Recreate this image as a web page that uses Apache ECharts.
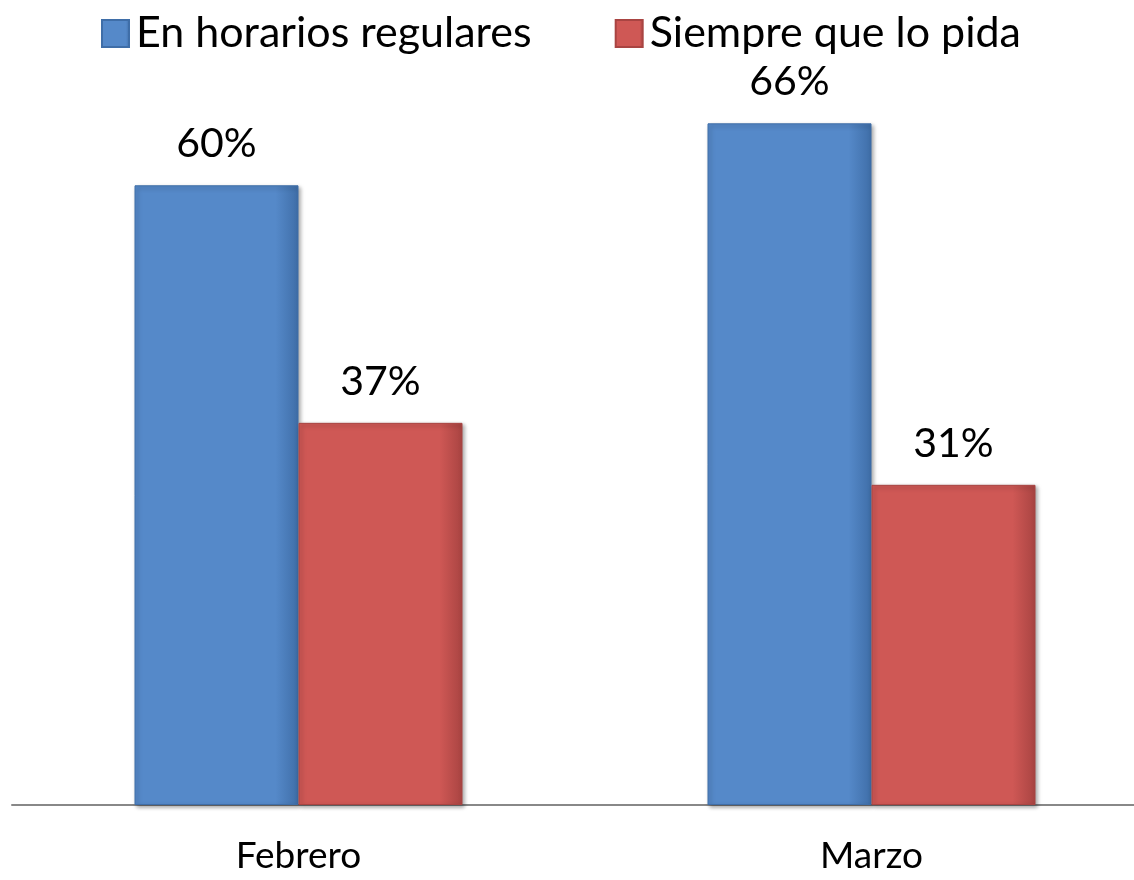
<!DOCTYPE html>
<html>
<head>
<meta charset="utf-8">
<script src="https://cdn.jsdelivr.net/npm/echarts@6/dist/echarts.min.js"></script>
<style>
  html, body { margin: 0; padding: 0; background: #fff; overflow: hidden; }
  #wrap { width: 1134px; height: 880px; overflow: hidden; }
  #chart { width: 1160px; height: 880px; }
</style>
</head>
<body>
<div id="wrap"><div id="chart"></div></div>
<script>
// datos
var categorias = ["Febrero", "Marzo"];
var horariosRegulares = [60, 66];
var siempreQueLoPida = [37, 31];
var nombres = ["En horarios regulares", "Siempre que lo pida"];

var fuente = "Lato, 'Noto Sans', sans-serif";

function barra(color, oscuro) {
  return {
    color: new echarts.graphic.LinearGradient(0, 0, 1, 0, [
      { offset: 0, color: color },
      { offset: 0.86, color: color },
      { offset: 1, color: oscuro }
    ]),
    borderColor: oscuro,
    borderWidth: 1,
    shadowColor: "rgba(0,0,0,0.35)",
    shadowBlur: 4,
    shadowOffsetX: 2,
    shadowOffsetY: 2
  };
}

function etiqueta() {
  return {
    show: true,
    position: "top",
    distance: 21,
    formatter: "{c}%",
    fontFamily: fuente,
    fontSize: 41,
    color: "#000"
  };
}

var chart = echarts.init(document.getElementById("chart"));
chart.setOption({
  animation: false,
  color: ["#5589C9", "#CF5855"],
  legend: {
    top: 7,
    left: 96,
    itemWidth: 27,
    itemHeight: 27,
    itemGap: 83,
    icon: "rect",
    textStyle: {
      fontFamily: fuente,
      fontSize: 43,
      color: "#000",
      padding: [0, 0, 0, 2]
    },
    data: nombres
  },
  grid: {
    left: 12,
    width: 1146,
    top: 82,
    height: 723
  },
  xAxis: {
    type: "category",
    data: categorias,
    axisLine: { lineStyle: { color: "#888", width: 2 } },
    axisTick: { show: false },
    axisLabel: {
      fontFamily: fuente,
      fontSize: 37,
      color: "#000",
      margin: 33
    }
  },
  yAxis: {
    type: "value",
    min: 0,
    max: 70,
    show: false,
    splitLine: { show: false }
  },
  series: [
    {
      name: nombres[0],
      type: "bar",
      data: horariosRegulares,
      barWidth: 164,
      barGap: "0%",
      itemStyle: barra("#5589C9", "#3f6ea8"),
      label: etiqueta()
    },
    {
      name: nombres[1],
      type: "bar",
      data: siempreQueLoPida,
      barWidth: 164,
      barGap: "0%",
      itemStyle: barra("#CF5855", "#a94442"),
      label: etiqueta()
    }
  ]
});
</script>
</body>
</html>
